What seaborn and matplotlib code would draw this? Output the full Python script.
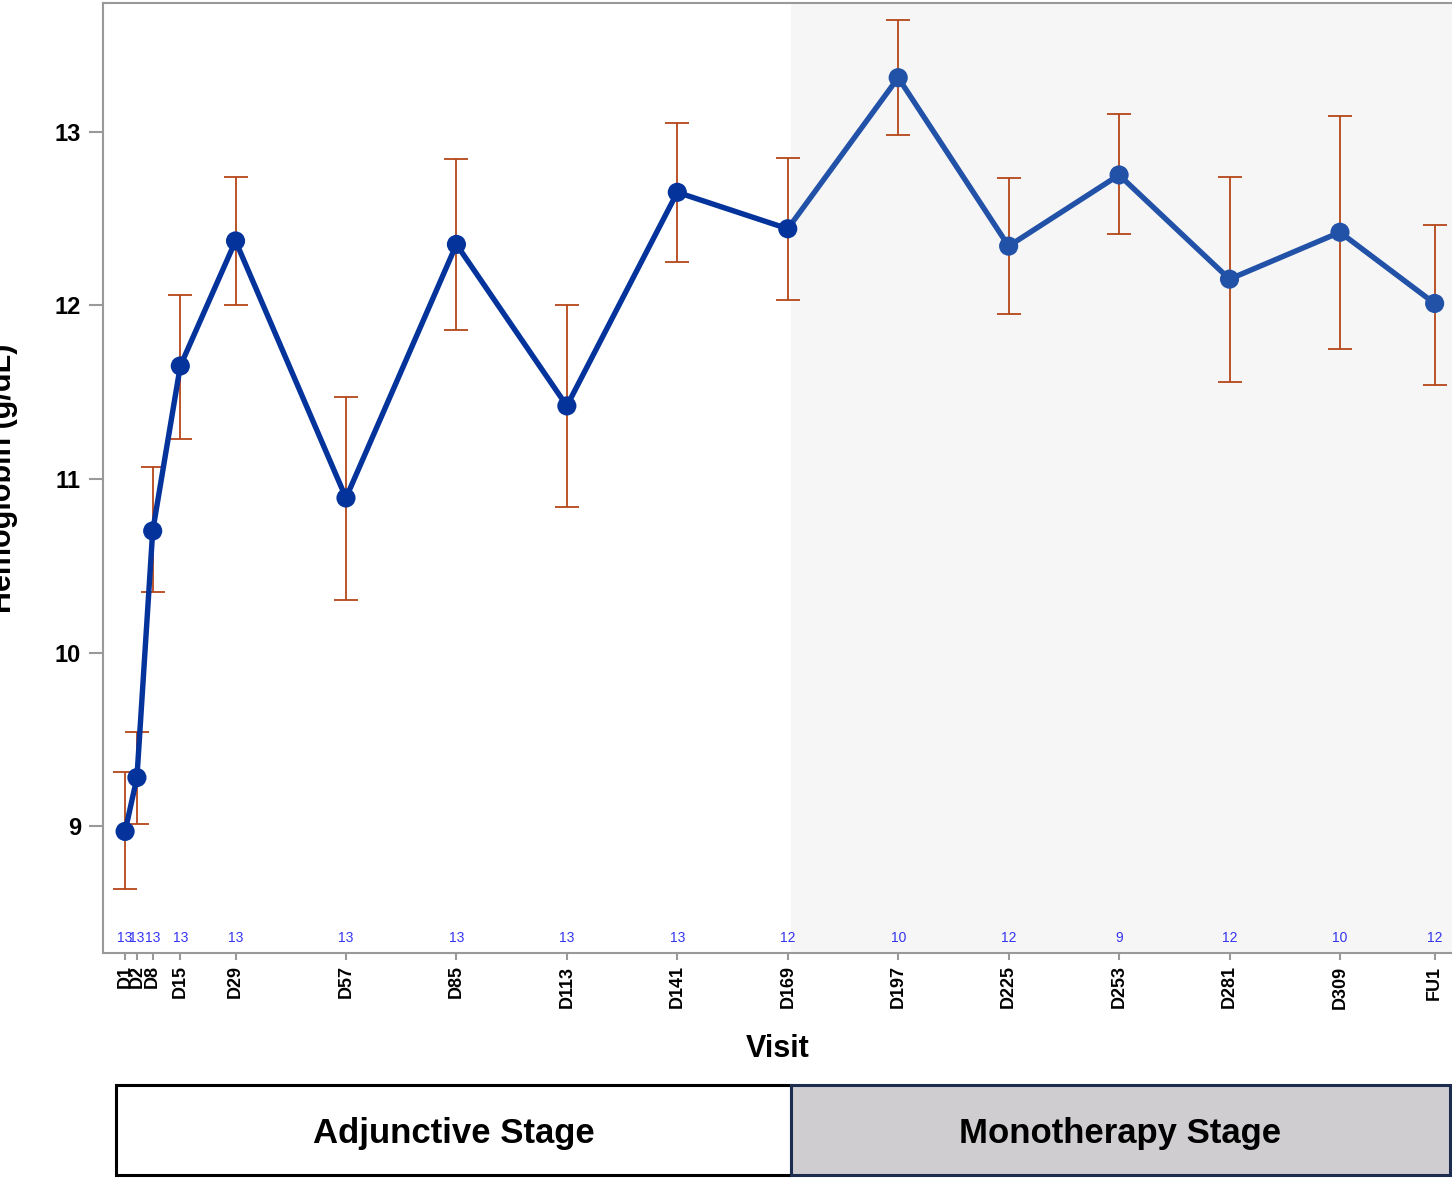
import numpy as np
import pandas as pd
import matplotlib
matplotlib.use('Agg')
import matplotlib.pyplot as plt
import seaborn as sns
from matplotlib.patches import Rectangle
import matplotlib.transforms as mtransforms

# visit data (x position = plotted study day)
visits = ['D1', 'D2', 'D8', 'D15', 'D29', 'D57', 'D85', 'D113', 'D141', 'D169',
          'D197', 'D225', 'D253', 'D281', 'D309', 'FU1']
study_day = [1, 4, 8, 15, 29, 57, 85, 113, 141, 169, 197, 225, 253, 281, 309, 333]
mean_hgb = [8.97, 9.28, 10.70, 11.65, 12.37, 10.89, 12.35, 11.42, 12.65, 12.44,
            13.31, 12.34, 12.75, 12.15, 12.42, 12.01]
upper_hgb = [9.31, 9.54, 11.07, 12.06, 12.74, 11.47, 12.84, 12.00, 13.05, 12.85,
             13.64, 12.73, 13.10, 12.74, 13.09, 12.46]
lower_hgb = [8.64, 9.01, 10.35, 11.23, 12.00, 10.30, 11.86, 10.84, 12.25, 12.03,
             12.98, 11.95, 12.41, 11.56, 11.75, 11.54]
n_subjects = [13, 13, 13, 13, 13, 13, 13, 13, 13, 12, 10, 12, 9, 12, 10, 12]
stage = ['Adjunctive'] * 10 + ['Monotherapy'] * 6

df = pd.DataFrame({'day': study_day, 'visit': visits, 'mean': mean_hgb,
                   'upper': upper_hgb, 'lower': lower_hgb, 'n': n_subjects,
                   'stage': stage})

dark_blue = '#04339c'
light_blue = '#2251a8'
err_color = '#b5461a'
split_day = 169.7
xmin, xmax = -4.6, 337.4
ymin, ymax = 8.27, 13.74

sns.set_theme(style='white')
plt.rcParams['font.family'] = ['Liberation Sans', 'DejaVu Sans']
plt.rcParams['text.color'] = 'black'
plt.rcParams['axes.labelcolor'] = 'black'

fig = plt.figure(figsize=(14.52, 11.8), dpi=100)
ax = fig.add_axes([103 / 1452, 1 - 953 / 1180, 1 - 103 / 1452, 950 / 1180])

ax.axvspan(split_day, xmax, color='#f6f6f6', zorder=0, lw=0)

ax.errorbar(df['day'], df['mean'],
            yerr=[df['mean'] - df['lower'], df['upper'] - df['mean']],
            fmt='none', ecolor=err_color, elinewidth=1.3, capsize=8.5,
            capthick=1.3, zorder=2)

sns.lineplot(data=df, x='day', y='mean', color=dark_blue, lw=3.9, ax=ax, zorder=3)
line_dark = ax.lines[-1]
line_dark.set_clip_path(Rectangle((xmin, ymin), split_day - xmin, ymax - ymin,
                                  transform=ax.transData))
sns.lineplot(data=df, x='day', y='mean', color=light_blue, lw=3.9, ax=ax, zorder=3)
line_light = ax.lines[-1]
line_light.set_clip_path(Rectangle((split_day, ymin), xmax - split_day, ymax - ymin,
                                   transform=ax.transData))

sns.scatterplot(data=df, x='day', y='mean', hue='stage',
                palette={'Adjunctive': dark_blue, 'Monotherapy': light_blue},
                s=190, linewidth=0, legend=False, ax=ax, zorder=4)

# subject counts along the bottom
trans = mtransforms.blended_transform_factory(ax.transData, ax.transAxes)
for d, n in zip(df['day'], df['n']):
    ax.text(d, 0.0158, str(n), transform=trans, ha='center', va='center',
            fontsize=10, color='#3434f2')

ax.set_xlim(xmin, xmax)
ax.set_ylim(ymin, ymax)
ax.set_xticks(study_day)
ax.set_xticklabels(visits, rotation=90, fontsize=13, fontweight='bold', color='black')
ax.set_yticks([9, 10, 11, 12, 13])
ax.set_yticklabels(['9', '10', '11', '12', '13'], fontsize=17, fontweight='bold',
                   color='black')
ax.tick_params(axis='y', length=10, width=1.5, color='#999999', left=True, pad=6)
ax.tick_params(axis='x', length=5, width=1.5, color='#999999', bottom=True, pad=4)
for sp in ax.spines.values():
    sp.set_color('#999999')
    sp.set_linewidth(1.5)
ax.spines['right'].set_visible(False)
ax.set_xlabel('Visit', fontsize=22, fontweight='bold', labelpad=18)
ax.set_ylabel('')
fig.text(3 / 1452, 1 - 478 / 1180, 'Hemoglobin (g/dL)', rotation=90,
         ha='center', va='center', fontsize=22, fontweight='bold')

# stage boxes underneath
bx = fig.add_axes([116 / 1452, 1 - 1175 / 1180, (1450 - 116) / 1452, 90 / 1180])
bx.set_xlim(0, 1)
bx.set_ylim(0, 1)
bx.axis('off')
split_frac = (791 - 116) / (1450 - 116)
bx.add_patch(Rectangle((0, 0), split_frac, 1, facecolor='white',
                       edgecolor='black', lw=2.2, clip_on=False))
bx.add_patch(Rectangle((split_frac, 0), 1 - split_frac, 1, facecolor='#cfcdd0',
                       edgecolor='#1c2d50', lw=2.2, clip_on=False))
bx.text(split_frac / 2, 0.46, 'Adjunctive Stage', ha='center', va='center',
        fontsize=25, fontweight='bold')
bx.text((1 + split_frac) / 2, 0.46, 'Monotherapy Stage', ha='center', va='center',
        fontsize=25, fontweight='bold')

fig.savefig('out.png', dpi=100)
